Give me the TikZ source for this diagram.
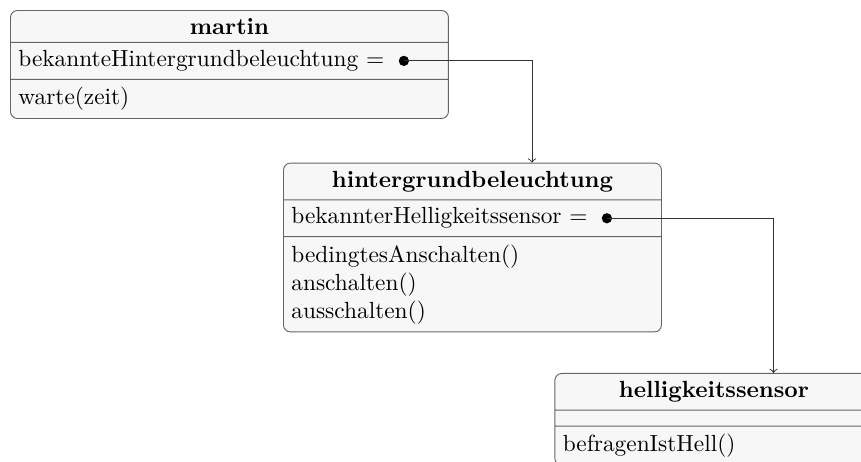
\documentclass[tikz,border=0pt]{standalone}
\usetikzlibrary{shapes.multipart,positioning,calc}

\begin{document}
\begin{tikzpicture}[
  umlclass/.style={rectangle split, rectangle split parts=3, draw=black!60,
    fill=black!3, rounded corners=3pt, inner xsep=3.4pt, inner ysep=3.2pt},
  refdot/.style={circle, fill=black, inner sep=0pt, minimum size=4.4pt},
  assoc/.style={->, draw=black!80}]
  \useasboundingbox (0,0) rectangle (369pt,-197.6pt);
  \clip (0,0) rectangle (369pt,-197.6pt);
  \node[umlclass, text width=180.9pt, anchor=north west] (martin) at (4.29pt,-4.29pt)
    {\hfill\textbf{martin}\hfill\null
     \nodepart{two}bekannteHintergrundbeleuchtung =
     \nodepart{three}warte(zeit)};
  \node[umlclass, text width=155.2pt, below right=18.7pt and 117pt of martin.south west] (hint)
    {\hfill\textbf{hintergrundbeleuchtung}\hfill\null
     \nodepart{two}bekannterHelligkeitssensor =
     \nodepart{three}bedingtesAnschalten()\\anschalten()\\ausschalten()};
  \node[umlclass, text width=129.5pt, below right=17.4pt and 116.3pt of hint.south west] (hell)
    {\hfill\textbf{helligkeitssensor}\hfill\null
     \nodepart{two}
     \nodepart{three}befragenIstHell()};
  % references
  \node[refdot] (martinref) at ($(martin.text split east)!0.5!(martin.two split east)+(-19.3pt,0)$) {};
  \node[refdot] (hintref) at ($(hint.text split east)!0.5!(hint.two split east)+(-23.6pt,0)$) {};
  \coordinate (hintin) at ([xshift=106.7pt]hint.north west);
  \coordinate (hellin) at ([xshift=93.9pt]hell.north west);
  \draw[assoc] (martinref.center) -| (hintin);
  \draw[assoc] (hintref.center) -| (hellin);
\end{tikzpicture}
\end{document}
